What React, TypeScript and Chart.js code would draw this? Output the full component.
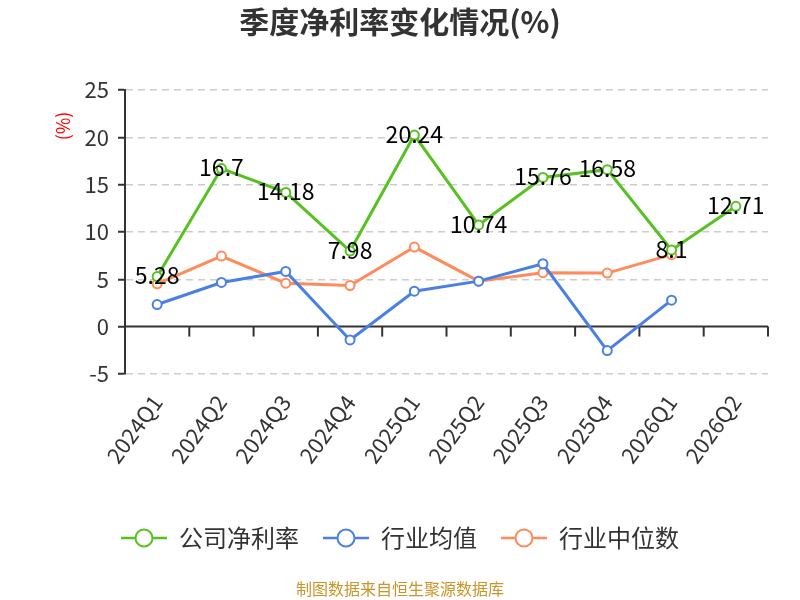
import React, { useEffect, useRef } from 'react';
import { Chart, registerables } from 'chart.js';

Chart.register(...registerables);

const categories = ['2024Q1', '2024Q2', '2024Q3', '2024Q4', '2025Q1', '2025Q2', '2025Q3', '2025Q4', '2026Q1', '2026Q2'];
const companyNetMargin = [5.28, 16.7, 14.18, 7.98, 20.24, 10.74, 15.76, 16.58, 8.1, 12.71];
const industryAverage = [2.33, 4.66, 5.83, -1.41, 3.74, 4.8, 6.64, -2.54, 2.79, null];
const industryMedian = [4.52, 7.45, 4.59, 4.34, 8.4, 4.8, 5.69, 5.65, 7.6, null];
const seriesNames = ['公司净利率', '行业均值', '行业中位数'];
const yMin = -5;
const yMax = 25;
const yStep = 5;

const GREEN = '#55c21f';
const BLUE = '#4a80e6';
const ORANGE = '#ff8b5a';
const FONT = "'Noto Sans CJK SC', 'Noto Sans', sans-serif";

function legendIcon(color: string): HTMLCanvasElement {
  const c = document.createElement('canvas');
  c.width = 46;
  c.height = 22;
  const ctx = c.getContext('2d')!;
  ctx.strokeStyle = color;
  ctx.lineWidth = 2.5;
  ctx.beginPath();
  ctx.moveTo(0, 11);
  ctx.lineTo(46, 11);
  ctx.stroke();
  ctx.beginPath();
  ctx.arc(23, 11, 8.5, 0, Math.PI * 2);
  ctx.fillStyle = '#fff';
  ctx.fill();
  ctx.lineWidth = 2;
  ctx.stroke();
  return c;
}

const zeroLinePlugin = {
  id: 'zeroLine',
  beforeDatasetsDraw(chart: any) {
    const { ctx, chartArea, scales } = chart;
    const y0 = scales.y.getPixelForValue(0);
    const x = scales.x;
    ctx.save();
    ctx.strokeStyle = '#333';
    ctx.lineWidth = 2;
    ctx.beginPath();
    ctx.moveTo(chartArea.left, y0);
    ctx.lineTo(chartArea.right, y0);
    ctx.stroke();
    const n = categories.length;
    for (let i = 1; i <= n; i++) {
      const px = i < n ? (x.getPixelForValue(i - 1) + x.getPixelForValue(i)) / 2 : chartArea.right;
      ctx.beginPath();
      ctx.moveTo(px, y0);
      ctx.lineTo(px, y0 + 10);
      ctx.stroke();
    }
    ctx.restore();
  },
};

const valueLabelPlugin = {
  id: 'valueLabels',
  afterDatasetsDraw(chart: any) {
    const { ctx } = chart;
    const meta = chart.getDatasetMeta(0);
    ctx.save();
    ctx.font = `23px ${FONT}`;
    ctx.fillStyle = '#000';
    ctx.textAlign = 'center';
    ctx.textBaseline = 'middle';
    meta.data.forEach((pt: any, i: number) => {
      ctx.fillText(String(companyNetMargin[i]), pt.x, pt.y - 1);
    });
    ctx.restore();
  },
};

const extrasPlugin = {
  id: 'extras',
  afterDraw(chart: any) {
    const { ctx, chartArea } = chart;
    ctx.save();
    ctx.translate(63, chartArea.top + 36);
    ctx.rotate(-Math.PI / 2);
    ctx.font = `18px ${FONT}`;
    ctx.fillStyle = '#ff0000';
    ctx.textAlign = 'center';
    ctx.textBaseline = 'middle';
    ctx.fillText('(%)', 0, 0);
    ctx.restore();
    ctx.save();
    ctx.font = `16px ${FONT}`;
    ctx.fillStyle = '#c8952a';
    ctx.textAlign = 'center';
    ctx.textBaseline = 'middle';
    ctx.fillText('制图数据来自恒生聚源数据库', 400, 589);
    ctx.restore();
  },
};

export default function App() {
  const ref = useRef<HTMLCanvasElement>(null);
  useEffect(() => {
    if (!ref.current) return;
    const colors = [GREEN, BLUE, ORANGE];
    const icons = colors.map(legendIcon);
    const mk = (label: string, data: (number | null)[], color: string) => ({
      label,
      data,
      borderColor: color,
      backgroundColor: '#fff',
      borderWidth: 3,
      pointRadius: 4.5,
      pointBorderWidth: 2,
      pointBackgroundColor: '#fff',
      pointBorderColor: color,
      tension: 0,
      spanGaps: false,
    });
    const chart = new Chart(ref.current, {
      type: 'line',
      data: {
        labels: categories,
        datasets: [
          mk(seriesNames[0], companyNetMargin, GREEN),
          mk(seriesNames[1], industryAverage, BLUE),
          mk(seriesNames[2], industryMedian, ORANGE),
        ],
      },
      options: {
        animation: false,
        responsive: false,
        layout: { padding: { left: 32, right: 32, top: 0, bottom: 40 } },
        plugins: {
          title: {
            display: true,
            text: '季度净利率变化情况(%)',
            color: '#333',
            font: { size: 30, weight: 'bold', family: FONT },
            padding: { top: 4, bottom: 50 },
          },
          legend: {
            position: 'bottom',
            labels: {
              usePointStyle: true,
              pointStyleWidth: 46,
              boxHeight: 16,
              padding: 24,
              color: '#333',
              font: { size: 24, family: FONT },
              generateLabels: (c: any) =>
                c.data.datasets.map((ds: any, i: number) => ({
                  text: ds.label,
                  fillStyle: '#fff',
                  strokeStyle: colors[i],
                  fontColor: '#333',
                  lineWidth: 2,
                  pointStyle: icons[i],
                  hidden: false,
                  datasetIndex: i,
                })),
            },
          },
          tooltip: { enabled: false },
        },
        scales: {
          x: {
            offset: true,
            grid: { display: false, drawTicks: false, offset: true },
            border: { display: false },
            afterFit: (s: any) => {
              s.height += 18;
            },
            ticks: {
              color: '#333',
              font: { size: 22, family: FONT },
              minRotation: 54,
              maxRotation: 54,
              padding: 16,
            },
          },
          y: {
            min: yMin,
            max: yMax,
            afterFit: (s: any) => {
              s.width = 93;
            },
            ticks: {
              stepSize: yStep,
              color: '#333',
              font: { size: 22, family: FONT },
              padding: 9,
            },
            border: { display: true, color: '#333', width: 2, dash: [7, 5] },
            grid: {
              color: (ctx: any) => (ctx.tick && ctx.tick.value === 0 ? 'rgba(0,0,0,0)' : '#cccccc'),
              lineWidth: 1.5,
              tickColor: '#333',
              tickLength: 7,
              tickBorderDash: [],
              tickWidth: 2,
            },
          },
        },
      },
      plugins: [zeroLinePlugin, valueLabelPlugin, extrasPlugin],
    } as any);
    return () => chart.destroy();
  }, []);
  return (
    <div style={{ position: 'absolute', left: 0, top: 0, width: 800, height: 600, background: '#fff' }}>
      <canvas ref={ref} width={800} height={600} style={{ width: 800, height: 600 }} />
    </div>
  );
}
